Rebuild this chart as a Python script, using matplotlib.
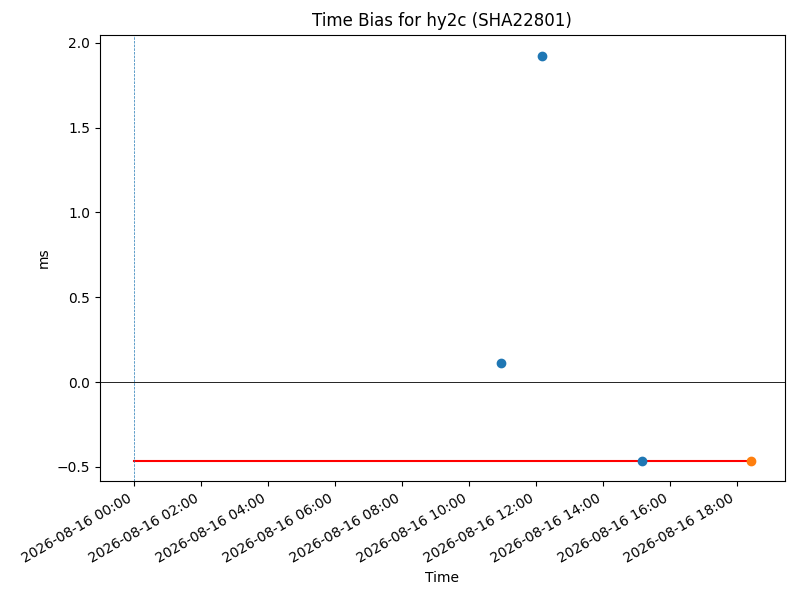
import numpy as np
import pandas as pd
import matplotlib
matplotlib.use("Agg")
import matplotlib.pyplot as plt
import matplotlib.dates as mdates

# measured time bias points
times = pd.to_datetime(["2026-08-16 10:57", "2026-08-16 12:11", "2026-08-16 15:10"])
bias = [0.11, 1.92, -0.465]

# latest / predicted point
last_time = pd.to_datetime("2026-08-16 18:26")
last_bias = -0.465

start = pd.to_datetime("2026-08-16 00:00")
x_range = pd.to_datetime(["2026-08-15 22:59", "2026-08-16 19:26"])

fig, ax = plt.subplots(figsize=(8, 6), dpi=100)
ax.plot([start, last_time], [last_bias, last_bias], color="red")
ax.plot(times, bias, "o", color="tab:blue")
ax.plot([last_time], [last_bias], "o", color="tab:orange")
ax.axvline(start, color="tab:blue", linestyle="--", linewidth=0.5)
ax.axhline(0, color="black", linewidth=0.6)

ax.set_xlim(x_range[0], x_range[1])
ax.set_ylim(-0.584, 2.047)
ax.xaxis.set_major_locator(mdates.HourLocator(interval=2))
ax.xaxis.set_major_formatter(mdates.DateFormatter("%Y-%m-%d %H:%M"))
fig.autofmt_xdate()
ax.set_xlabel("Time")
ax.set_ylabel("ms")
ax.set_title("Time Bias for hy2c (SHA22801)")
fig.subplots_adjust(left=0.125, right=0.981, top=0.942, bottom=0.198)
fig.savefig("out.png")
